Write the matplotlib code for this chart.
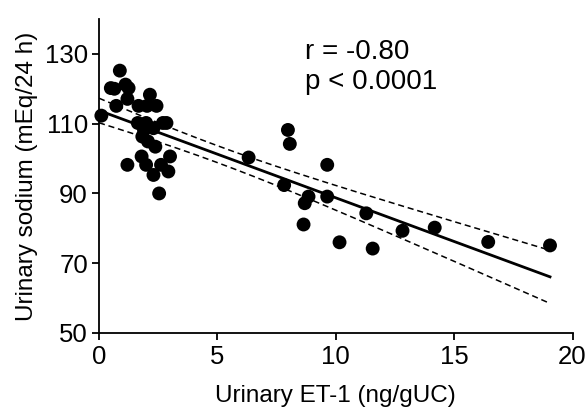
import numpy as np
import matplotlib
matplotlib.use("Agg")
import matplotlib.pyplot as plt

plt.rcParams['font.family'] = ['Liberation Sans', 'DejaVu Sans']

et1 = [0.1, 0.5, 0.65, 0.88, 0.73, 1.12, 1.25, 1.2, 1.2, 1.67, 2.15, 2.03, 2.43,
       1.64, 1.99, 1.9, 1.83, 2.07, 2.3, 2.7, 2.85, 2.38, 1.8, 1.99, 2.3, 2.62,
       3.0, 2.93, 2.54, 6.32, 7.98, 8.06, 7.82, 8.69, 8.85, 8.64, 9.64, 9.64,
       10.16, 11.29, 11.56, 12.82, 14.18, 16.44, 19.05]
sodium = [112.3, 120.2, 120.0, 125.2, 115.1, 121.2, 120.2, 117.1, 98.2, 115.1,
          118.3, 115.1, 115.1, 110.2, 110.2, 108.2, 106.3, 104.9, 108.7, 110.2,
          110.2, 103.4, 100.6, 98.2, 95.3, 98.2, 100.6, 96.3, 90.0, 100.3, 108.2,
          104.2, 92.4, 87.2, 89.1, 81.1, 98.2, 89.1, 76.0, 84.3, 74.2, 79.3, 80.2,
          76.1, 75.1]
x_ticks = [0, 5, 10, 15, 20]
y_ticks = [50, 70, 90, 110, 130]
stats_text = 'r = -0.80\np < 0.0001'

W, H = 586, 408
fig = plt.figure(figsize=(W/100, H/100), dpi=100)
L, R, T, B = 99, 572.5, 19, 333
ax = fig.add_axes([L/W, 1 - B/H, (R-L)/W, (B-T)/H])

xs = np.array(et1); ys = np.array(sodium)
n = len(xs)
b, a = np.polyfit(xs, ys, 1)
xx = np.linspace(0, xs.max(), 200)
yy = a + b * xx
resid = ys - (a + b * xs)
s = np.sqrt(np.sum(resid**2) / (n - 2))
se = s * np.sqrt(1/n + (xx - xs.mean())**2 / np.sum((xs - xs.mean())**2))
t = 2.017
ax.plot(xx, yy, color='black', lw=2.0, zorder=2)
ax.plot(xx, yy + t*se, color='black', lw=1.1, ls=(0, (4, 2.5)), zorder=2)
ax.plot(xx, yy - t*se, color='black', lw=1.1, ls=(0, (4, 2.5)), zorder=2)

ax.scatter(et1, sodium, s=100, color='black', edgecolors='none', zorder=3, clip_on=False)

ax.set_xlim(0, 20)
ax.set_ylim(50, 140)
ax.set_xticks(x_ticks)
ax.set_yticks(y_ticks)
for sp in ['top', 'right']:
    ax.spines[sp].set_visible(False)
for sp in ['left', 'bottom']:
    ax.spines[sp].set_linewidth(1.3)
ax.tick_params(direction='out', length=5, width=1.3, labelsize=18.5)
ax.tick_params(axis='y', pad=3)
ax.tick_params(axis='x', pad=4)
ax.set_xlabel('Urinary ET-1 (ng/gUC)', fontsize=17.5, labelpad=11)
ax.set_ylabel('Urinary sodium (mEq/24 h)', fontsize=17.5, labelpad=5)
ax.text(305/W, 1 - 39/H, stats_text, transform=fig.transFigure, fontsize=20,
        va='top', ha='left', linespacing=1.2)

fig.savefig('out.png', dpi=100)
